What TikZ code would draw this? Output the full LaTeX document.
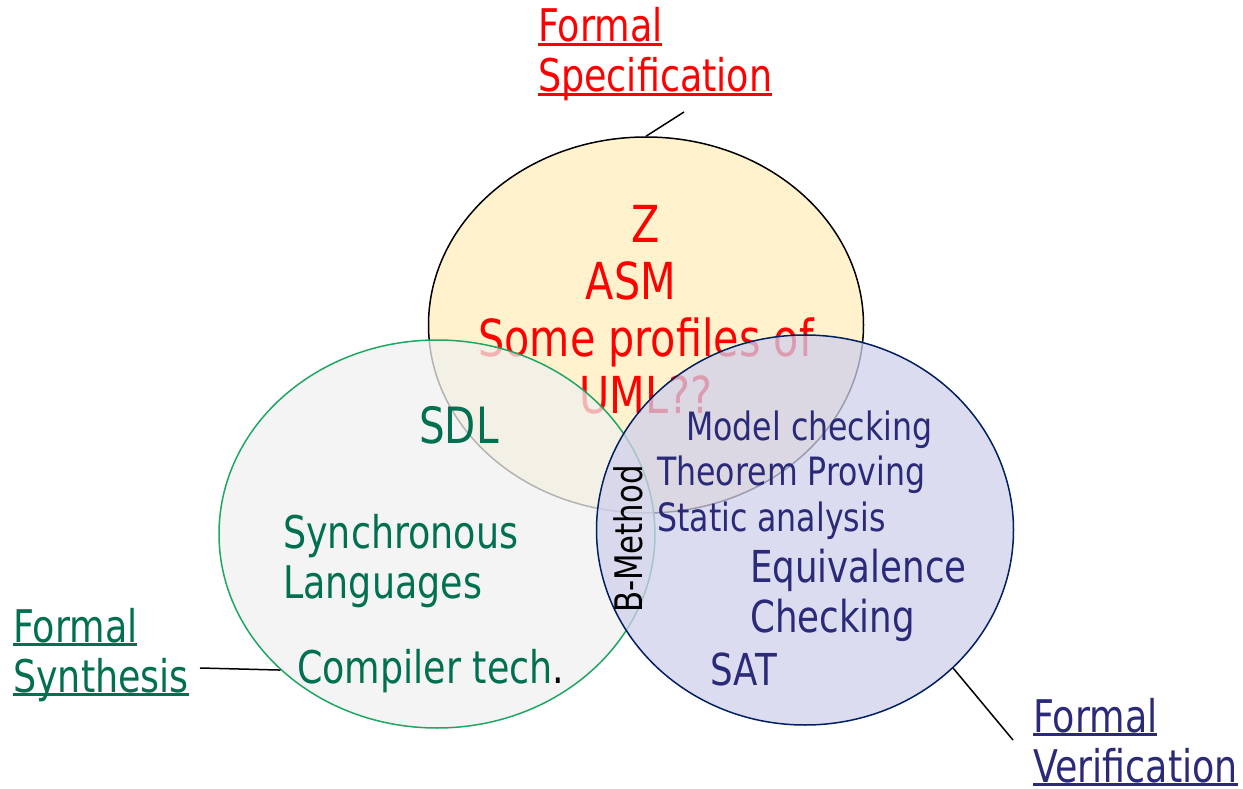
\documentclass[tikz,border=0pt]{standalone}
\usepackage{fontspec}
\setmainfont[FakeStretch=0.81]{DejaVu Sans}
\usetikzlibrary{positioning,shapes.geometric}
\definecolor{specred}{RGB}{255,0,0}
\definecolor{synthgreen}{RGB}{0,112,80}
\definecolor{verifblue}{RGB}{42,42,120}
\definecolor{specfill}{RGB}{255,242,204}
\definecolor{synthfill}{RGB}{240,240,240}
\definecolor{synthedge}{RGB}{32,166,100}
\definecolor{veriffill}{RGB}{208,208,236}
\definecolor{verifedge}{RGB}{0,32,96}
\tikzstyle{line} = [draw,line width=1.5pt]
\tikzstyle{set} = [ellipse,inner sep=0pt,line width=1.5pt]
\newcommand{\ulbar}[1]{\setbox0\hbox{#1}\rlap{\rule[-4pt]{\wd0}{3pt}}\box0}

\begin{document}
\begin{tikzpicture}[x=1pt,y=-1pt,
            areaname/.style = {anchor=base west, inner sep=0pt, align=left,
              font=\fontsize{45}{50}\selectfont},
            item/.style = {inner sep=0pt, align=left}]
            \useasboundingbox (0,0) rectangle (1243,789);
            \node[set, draw=black, fill=specfill, minimum width=435pt, minimum height=376pt] (spec) at (646,325) {};
            \node[item, anchor=base, align=center, text=specred, font=\fontsize{51}{57}\selectfont] (spectools) at (646,413) {Z\\ASM\hspace*{30pt}\mbox{}\\Some profiles of\\UML??};
            \node[set, draw=synthedge, fill=synthfill, fill opacity=0.75, minimum width=436pt, minimum height=388pt] (synth) at (437,534) {};
            \node[set, draw=verifedge, fill=veriffill, fill opacity=0.75, minimum width=417pt, minimum height=390pt] (verif) at (805,530) {};
            % what sits in each set
            \node[item, anchor=base, text=synthgreen, font=\fontsize{50}{57}\selectfont] (sdl) at (459,443) {SDL};
            \node[item, anchor=base west, text=synthgreen, font=\fontsize{45}{50}\selectfont] (synclang) at (283,598) {Synchronous\\Languages};
            \node[item, anchor=base west, text=synthgreen, font=\fontsize{45}{50}\selectfont] (compiler) at (297,683) {Compiler tech\textcolor{black}{.}};
            \node[item, anchor=base west, text=verifblue, font=\fontsize{39}{45.5}\selectfont] (checks) at (657,531) {\hspace*{29pt}Model checking\\Theorem Proving\\Static analysis};
            \node[item, anchor=base west, text=verifblue, font=\fontsize{44}{50}\selectfont] (equiv) at (750,632) {Equivalence\\Checking};
            \node[item, anchor=base west, text=verifblue, font=\fontsize{44}{50}\selectfont] (sat) at (710,685) {SAT};
            \node[item, anchor=base west, rotate=90, font=\fontsize{38}{44}\selectfont] (bmethod) at (642,613) {B-Method};
            % names of the sets
            \node[areaname, text=specred] (specname) at (538,92) {\ulbar{Formal}\\\ulbar{Specification}};
            \node[areaname, text=synthgreen] (synthname) at (13,692) {\ulbar{Formal}\\\ulbar{Synthesis}};
            \node[areaname, text=verifblue] (verifname) at (1033,782) {\ulbar{Formal}\\\ulbar{Verification}};
            \coordinate (specfoot) at (684,112);
            \coordinate (synthfoot) at (200,668);
            \coordinate (veriffoot) at (1013,740);
            \path [line] (spec.north) -- (specfoot);
            \path [line] (synth.221.7) -- (synthfoot);
            \path [line] (verif.-43) -- (veriffoot);
            \end{tikzpicture}
\end{document}
